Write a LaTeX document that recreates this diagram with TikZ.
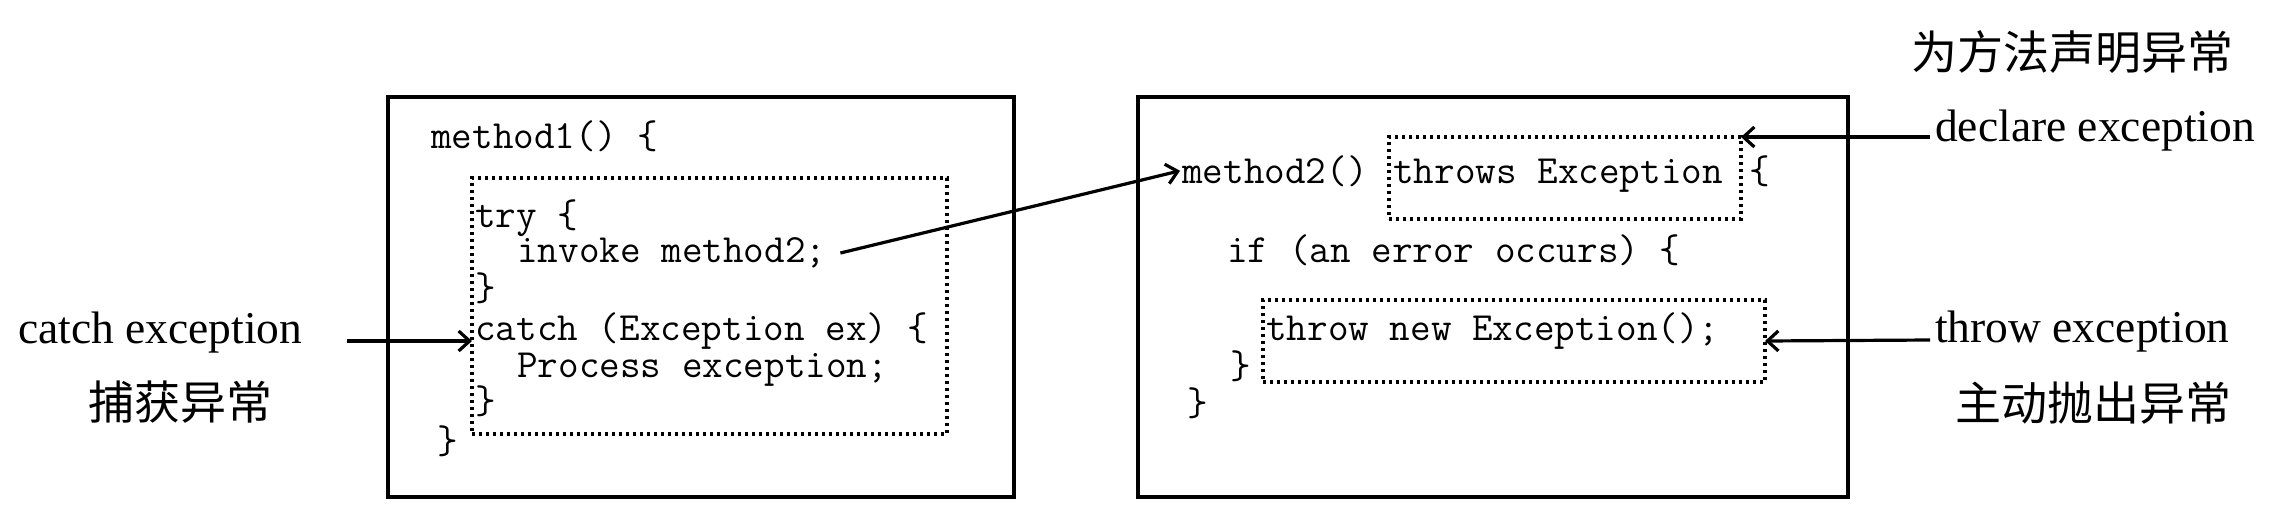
\documentclass[tikz,border=0pt]{standalone}
\usepackage{fontspec}
\setmainfont{Liberation Serif}
\newfontfamily\cjk{Noto Sans CJK SC}
\usetikzlibrary{arrows.meta}
\tikzset{
  code/.style={inner sep=0pt, anchor=base west, font=\ttfamily\fontsize{40}{40}\selectfont},
  lbl/.style={inner sep=0pt, anchor=base west, font=\fontsize{45.5}{45.5}\selectfont},
  cn/.style={inner sep=0pt, font=\cjk\fontsize{46}{46}\selectfont},
  frame/.style={draw, line width=3.4pt, inner sep=0pt, outer sep=0pt},
  dotbox/.style={draw, line width=3.2pt, dash pattern=on 3.2pt off 3.8pt, inner sep=0pt, outer sep=0pt},
  arr/.style={line width=3.2pt, -{Straight Barb[length=11pt, width=20pt, line width=3.2pt]}}
}
\begin{document}
\begin{tikzpicture}[x=1pt, y=-1pt]
\useasboundingbox (0,0) rectangle (2277,512);

% frames
\node[frame, minimum width=626pt, minimum height=400pt] (left) at (701,297) {};
\node[frame, minimum width=710pt, minimum height=400pt] (right) at (1493,297) {};

% dotted boxes
\node[dotbox, minimum width=475pt, minimum height=256pt] (trybox) at (709.5,306) {};
\node[dotbox, minimum width=352pt, minimum height=82pt] (thrbox) at (1565,178) {};
\node[dotbox, minimum width=502pt, minimum height=82pt] (tbox) at (1514,341) {};

% left code
\node[code] (m1) at (431,148) {method1() \{};
\node[code] (try) at (475,227) {try \{};
\node[code] (inv) at (517,262) {invoke method2;};
\node[code] (tc) at (475,300) {\}};
\node[code] (catch) at (475,340) {catch (Exception ex) \{};
\node[code] (proc) at (517,377) {Process exception;};
\node[code] (cc) at (475,413) {\}};
\node[code] (mc) at (437,453) {\}};

% right code
\node[code] (m2) at (1182,183) {method2()};
\node[code] (thr) at (1393,183) {throws Exception};
\node[code] (ob) at (1749,183) {\{};
\node[code] (if) at (1227,262) {if (an error occurs) \{};
\node[code] (tn) at (1266,340) {throw new Exception();};
\node[code] (ic) at (1230,378) {\}};
\node[code] (m2c) at (1187,415) {\}};

% labels
\node[lbl] (catchl) at (18,343) {catch exception};
\node[cn] (catchcn) at (180,402) {捕获异常};
\node[lbl] (decl) at (1935,141) {declare exception};
\node[cn] (declcn) at (2072,52) {为方法声明异常};
\node[lbl] (thrl) at (1935,342) {throw exception};
\node[cn] (thrcn) at (2093,403) {主动抛出异常};

% connectors
\coordinate (cS) at (347,341);
\draw[arr] (cS) -- (cS -| trybox.west);
\draw[arr] ([shift={(14,-9)}]inv.base east) -- ([xshift=-2pt]m2.west);
\draw[arr] ([shift={(-5,-4)}]decl.base west) -- (thrbox.north east);
\draw[arr] ([shift={(-5,-2)}]thrl.base west) -- (tbox.east);
\end{tikzpicture}
\end{document}
